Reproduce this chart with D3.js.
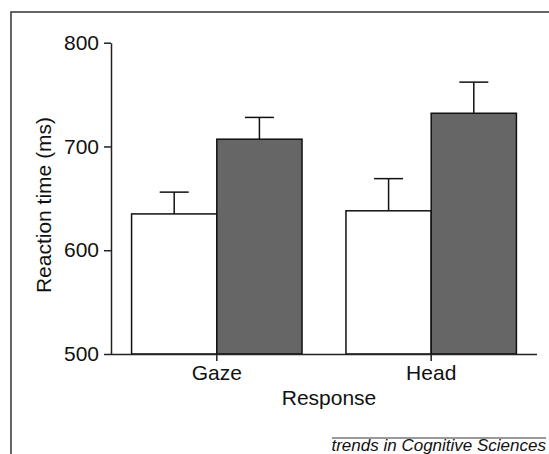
<!DOCTYPE html>
<html>
<head>
<meta charset="utf-8">
<script src="https://cdn.jsdelivr.net/npm/d3@7"></script>
<style>
  body { margin: 0; background: #fff; }
  text { font-family: "Liberation Sans", Arial, sans-serif; fill: #111; }
</style>
</head>
<body>
<div id="chart"></div>
<script>
var categories = ["Gaze", "Head"];
var conditions = ["light", "dark"];
var means = { light: [635, 638], dark: [707, 732] };
var errors = { light: [21, 31], dark: [21, 30] };
var yTicks = [500, 600, 700, 800];

var svg = d3.select("#chart").append("svg")
    .attr("width", 549)
    .attr("height", 454);

// outer frame (runs off right and bottom edge)
svg.append("rect")
    .attr("x", 11).attr("y", 12)
    .attr("width", 560).attr("height", 460)
    .attr("fill", "none")
    .attr("stroke", "#333")
    .attr("stroke-width", 1.5);

var x = d3.scaleBand()
    .domain(categories)
    .range([111, 537])
    .paddingInner(0.205)
    .paddingOuter(0.096);

var xs = d3.scaleBand()
    .domain(conditions)
    .range([0, x.bandwidth()]);

var y = d3.scaleLinear()
    .domain([500, 800])
    .range([354, 42.7]);

var fills = { light: "#ffffff", dark: "#666666" };

var group = svg.selectAll(".grp")
    .data(categories)
    .enter().append("g")
    .attr("class", "grp")
    .attr("transform", function(d) { return "translate(" + x(d) + ",0)"; });

conditions.forEach(function(c) {
    // error bars first so bar stroke sits on top
    group.append("line")
        .attr("x1", xs(c) + xs.bandwidth() / 2)
        .attr("x2", xs(c) + xs.bandwidth() / 2)
        .attr("y1", function(d, i) { return y(means[c][i]); })
        .attr("y2", function(d, i) { return y(means[c][i] + errors[c][i]); })
        .attr("stroke", "#111").attr("stroke-width", 1.5);
    group.append("line")
        .attr("x1", xs(c) + xs.bandwidth() / 2 - 14.5)
        .attr("x2", xs(c) + xs.bandwidth() / 2 + 14.5)
        .attr("y1", function(d, i) { return y(means[c][i] + errors[c][i]); })
        .attr("y2", function(d, i) { return y(means[c][i] + errors[c][i]); })
        .attr("stroke", "#111").attr("stroke-width", 1.5);
    group.append("rect")
        .attr("x", xs(c))
        .attr("width", xs.bandwidth())
        .attr("y", function(d, i) { return y(means[c][i]); })
        .attr("height", function(d, i) { return y(500) - y(means[c][i]); })
        .attr("fill", fills[c])
        .attr("stroke", "#111")
        .attr("stroke-width", 1.5);
});

var yAxis = svg.append("g")
    .attr("transform", "translate(111,0)")
    .call(d3.axisLeft(y).tickValues(yTicks).tickSize(7).tickPadding(5).tickSizeOuter(0));

var xAxis = svg.append("g")
    .attr("transform", "translate(0,354)")
    .call(d3.axisBottom(x).tickSize(7).tickPadding(4).tickSizeOuter(0));

svg.selectAll(".domain, .tick line")
    .attr("stroke", "#222")
    .attr("stroke-width", 1.5);
svg.selectAll(".tick text")
    .attr("font-size", "21px")
    .attr("font-family", "Liberation Sans, Arial, sans-serif")
    .attr("fill", "#111");

// x axis line spans full width from y axis
xAxis.select(".domain").attr("d", "M111,0.5H537");

svg.append("text")
    .attr("transform", "translate(51,205) rotate(-90)")
    .attr("text-anchor", "middle")
    .attr("font-size", "21px")
    .text("Reaction time (ms)");

svg.append("text")
    .attr("x", 329)
    .attr("y", 405)
    .attr("text-anchor", "middle")
    .attr("font-size", "21px")
    .text("Response");

svg.append("line")
    .attr("x1", 332).attr("x2", 546)
    .attr("y1", 438).attr("y2", 438)
    .attr("stroke", "#777").attr("stroke-width", 1.5);

svg.append("text")
    .attr("x", 546)
    .attr("y", 451)
    .attr("text-anchor", "end")
    .attr("font-size", "17px")
    .attr("font-style", "italic")
    .text("trends in Cognitive Sciences");
</script>
</body>
</html>
